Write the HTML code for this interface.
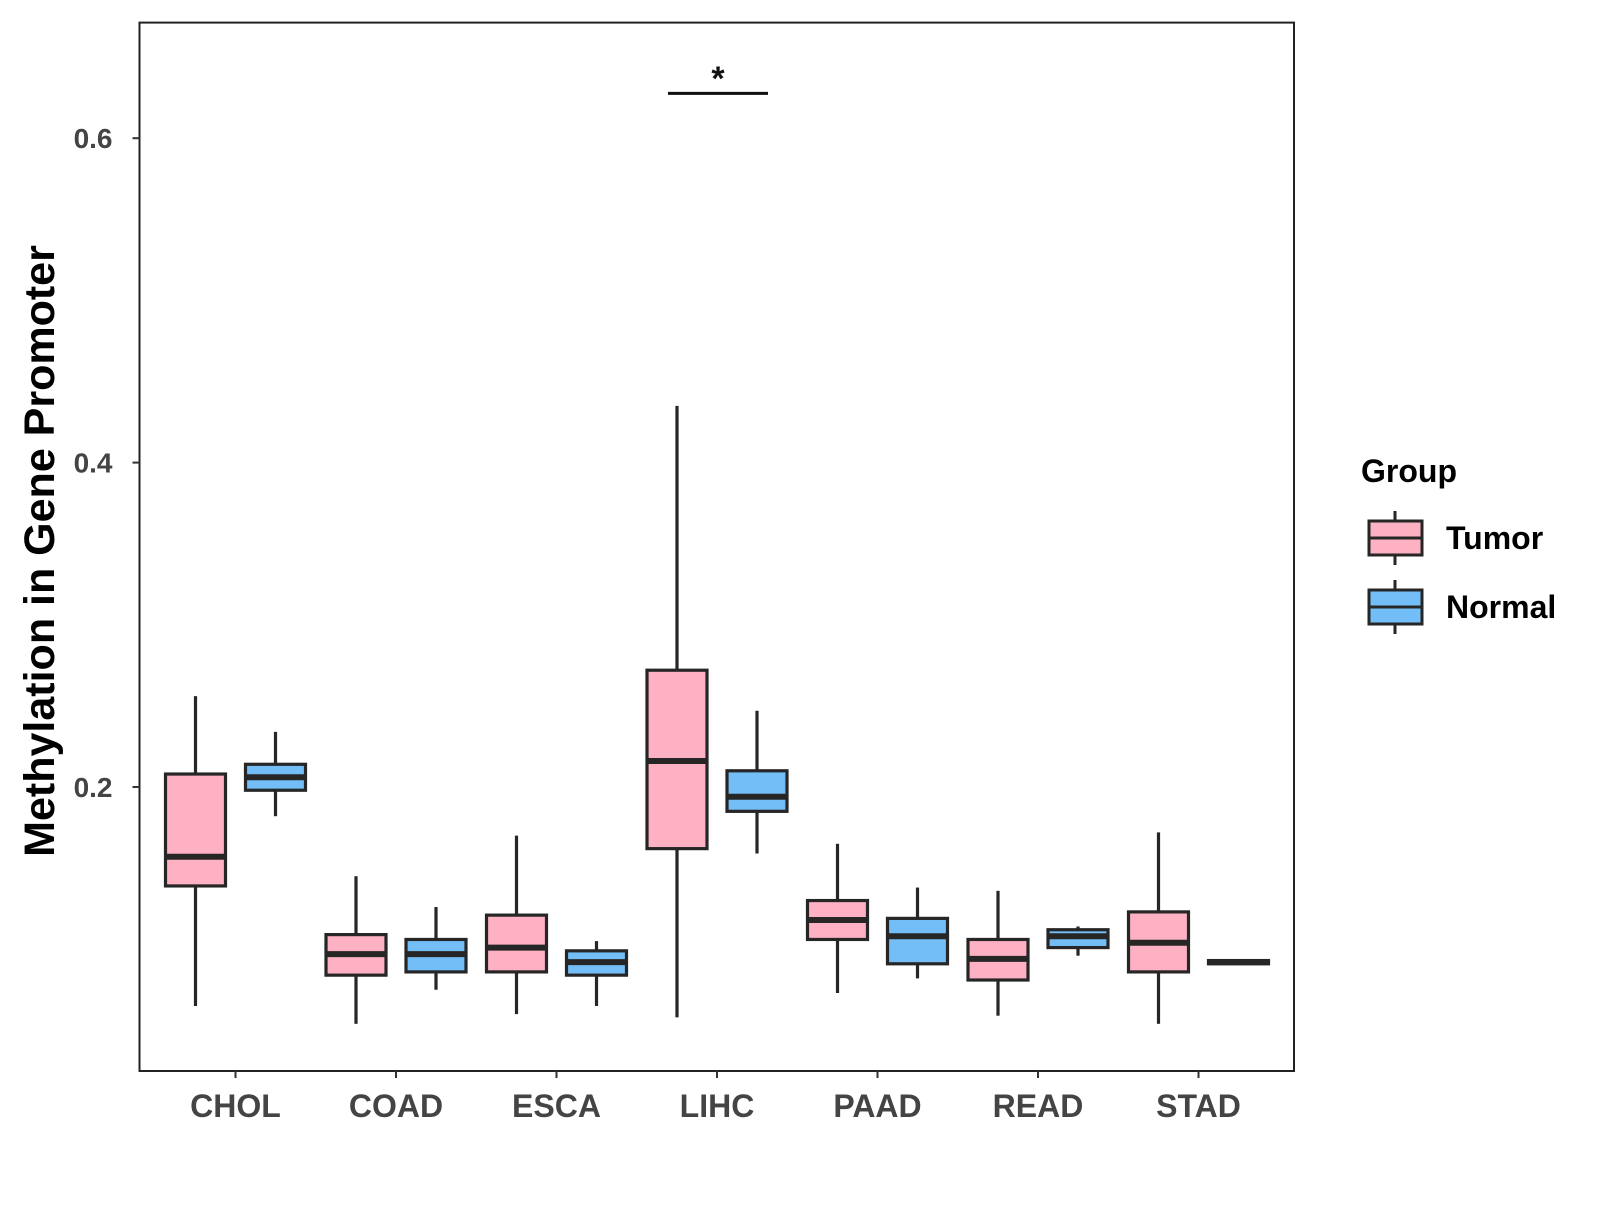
<!DOCTYPE html>
<html><head><meta charset="utf-8"><style>
body{margin:0;background:#fff}
text{font-family:"Liberation Sans",Arial,sans-serif;font-weight:bold}
</style></head><body>
<svg width="1600" height="1200" viewBox="0 0 1600 1200" xmlns="http://www.w3.org/2000/svg">
<rect x="0" y="0" width="1600" height="1200" fill="#fff"/>
<g id="plot"></g>
</svg>
<script>
const categories=["CHOL","COAD","ESCA","LIHC","PAAD","READ","STAD"];
const tumorStats=[
[0.065,0.139,0.157,0.208,0.256],
[0.054,0.084,0.097,0.109,0.145],
[0.060,0.086,0.101,0.121,0.170],
[0.058,0.162,0.216,0.272,0.435],
[0.073,0.106,0.118,0.130,0.165],
[0.059,0.081,0.094,0.106,0.136],
[0.054,0.086,0.104,0.123,0.172]];
const normalStats=[
[0.182,0.198,0.206,0.214,0.234],
[0.075,0.086,0.097,0.106,0.126],
[0.065,0.084,0.092,0.099,0.105],
[0.159,0.185,0.194,0.210,0.247],
[0.082,0.091,0.108,0.119,0.138],
[0.096,0.101,0.108,0.112,0.114],
[0.091,0.091,0.092,0.093,0.093]];
const yTicks=[0.2,0.4,0.6];
const yTickLabels=["0.2","0.4","0.6"];

const NS="http://www.w3.org/2000/svg";
const g=document.getElementById("plot");
const PL=139.5,PT=22.6,PR=1294,PB=1071;
function y(v){return 787-(v-0.2)*1622;}
function x(i){return 235.5+i*160.5;}
function mk(tag,attrs,parent){const e=document.createElementNS(NS,tag);for(const k in attrs)e.setAttribute(k,attrs[k]);(parent||g).appendChild(e);return e;}

const panel=mk("rect",{x:PL,y:PT,width:PR-PL,height:PB-PT,fill:"none",stroke:"#222","stroke-width":2});



yTicks.forEach((t,i)=>{
 const tk=mk("line",{x1:PL-7,x2:PL,y1:y(t),y2:y(t),stroke:"#333","stroke-width":2});
 
 
 const tl=mk("text",{x:PL-27,y:y(t)+10,"text-anchor":"end","font-size":28,fill:"#444"});
 tl.textContent=yTickLabels[i];
 
 
});
categories.forEach((c,i)=>{
 const tk=mk("line",{x1:x(i),x2:x(i),y1:PB,y2:PB+7,stroke:"#333","stroke-width":2});
 
 
 const tl=mk("text",{x:x(i),y:1117,"text-anchor":"middle","font-size":32,fill:"#444"});
 tl.textContent=c;
 
 
});

function box(cx,s,fill,name){
 const grp=mk("g",{});
 
 
 mk("line",{x1:cx,x2:cx,y1:y(s[4]),y2:y(s[3]),stroke:"#262626","stroke-width":3.2},grp);
 mk("line",{x1:cx,x2:cx,y1:y(s[1]),y2:y(s[0]),stroke:"#262626","stroke-width":3.2},grp);
 mk("rect",{x:cx-30,y:y(s[3]),width:60,height:Math.max(1,y(s[1])-y(s[3])),fill:fill,stroke:"#262626","stroke-width":3.2},grp);
 mk("line",{x1:cx-30,x2:cx+30,y1:y(s[2]),y2:y(s[2]),stroke:"#262626","stroke-width":6},grp);
}
categories.forEach((c,i)=>{
 box(x(i)-40,tumorStats[i],"#FDB1C3","box-tumor-"+c.toLowerCase());
 box(x(i)+40,normalStats[i],"#74BEF7","box-normal-"+c.toLowerCase());
});

const sig=mk("line",{x1:668,x2:768,y1:93.4,y2:93.4,stroke:"#111","stroke-width":3});


const st=mk("text",{x:718,y:90,"text-anchor":"middle","font-size":34,fill:"#111"});
st.textContent="*";



const yt=mk("text",{x:0,y:0,"text-anchor":"middle","font-size":43,fill:"#000",transform:"translate(54,551) rotate(-90)"});
yt.textContent="Methylation in Gene Promoter";



const lt=mk("text",{x:1361,y:482,"font-size":32,fill:"#000"});
lt.textContent="Group";


function legend(yc,fill,label,name){
 const grp=mk("g",{});
 
 
 mk("line",{x1:1395,x2:1395,y1:yc-27,y2:yc+27,stroke:"#262626","stroke-width":3},grp);
 mk("rect",{x:1369,y:yc-17,width:53,height:34,fill:fill,stroke:"#262626","stroke-width":3},grp);
 mk("line",{x1:1369,x2:1422,y1:yc,y2:yc,stroke:"#262626","stroke-width":3},grp);
 const t=mk("text",{x:1446,y:yc+11,"font-size":32,fill:"#000"},grp);
 t.textContent=label;
}
legend(538,"#FDB1C3","Tumor","legend-entry-tumor");
legend(607,"#74BEF7","Normal","legend-entry-normal");
</script>
</body></html>
